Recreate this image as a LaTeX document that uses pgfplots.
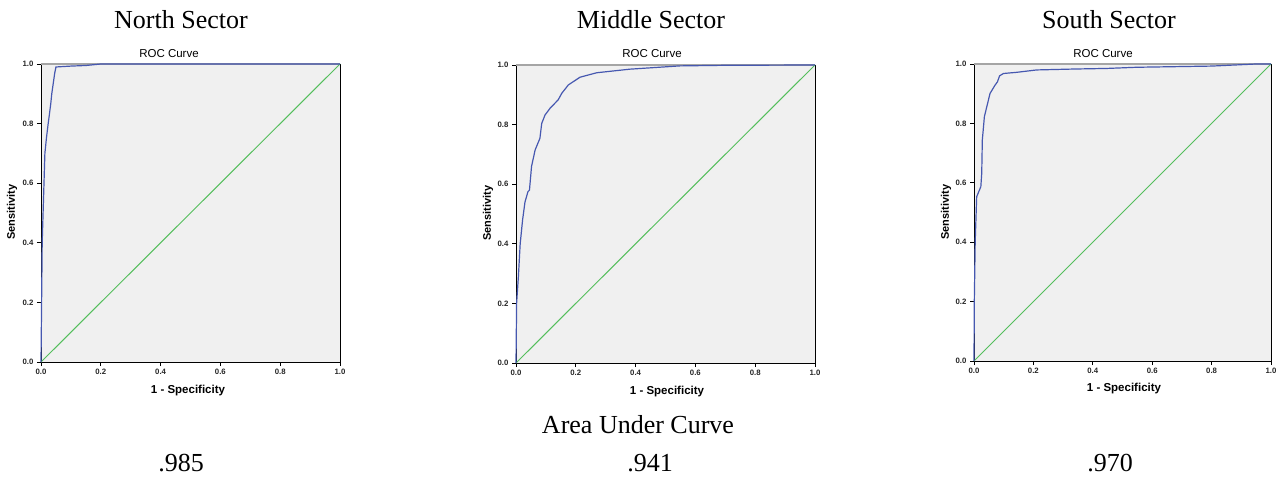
\documentclass[border=0pt]{standalone}
\usepackage{fontspec}
\setmainfont{Liberation Sans}
\newfontfamily\timesf{Liberation Serif}
\usepackage{pgfplots}
\pgfplotsset{compat=1.18}
\definecolor{roc}{RGB}{70,88,176}
\definecolor{refl}{RGB}{84,190,92}
\definecolor{bg}{RGB}{240,240,240}
\definecolor{topg}{RGB}{165,165,165}
\pgfplotsset{rocax/.style={
  scale only axis, width=299pt, height=298pt,
  xmin=0, xmax=1, ymin=0, ymax=1,
  xtick={0,0.2,0.4,0.6,0.8,1}, ytick={0,0.2,0.4,0.6,0.8,1},
  xticklabels={0.0,0.2,0.4,0.6,0.8,1.0},
  yticklabels={0.0,0.2,0.4,0.6,0.8,1.0},
  tick pos=left, tick align=outside, major tick length=4pt,
  tick style={black, line width=0.8pt},
  tick label style={font=\fontsize{7.8}{8}\selectfont\bfseries, text=black!85},
  axis background/.style={fill=bg},
  axis line style={black, line width=0.9pt},
  clip=false,
}}
\begin{document}
\begin{tikzpicture}[x=1pt,y=1pt]
\useasboundingbox (0,0) rectangle (1280,477);
% ---------- North
\begin{axis}[rocax, at={(41pt,115pt)}, anchor=south west]
\draw[topg, line width=1.6pt] (rel axis cs:0,1) -- (rel axis cs:1,1);
\addplot[refl, line width=1pt] coordinates {(0,0) (1,1)};
\addplot[roc, line width=1.2pt] coordinates {
(0,0) (0.001,0.1) (0.002,0.2) (0.004,0.4) (0.007,0.5) (0.01,0.6)
(0.013,0.7) (0.018,0.75) (0.024,0.8) (0.028,0.83) (0.033,0.87)
(0.036,0.9) (0.041,0.935) (0.046,0.97) (0.05,0.99) (0.1,0.993)
(0.15,0.995) (0.2,1.0) (1,1)};
\end{axis}
% ---------- Middle
\begin{axis}[rocax, at={(516pt,114pt)}, anchor=south west]
\draw[topg, line width=1.6pt] (rel axis cs:0,1) -- (rel axis cs:1,1);
\addplot[refl, line width=1pt] coordinates {(0,0) (1,1)};
\addplot[roc, line width=1.2pt] coordinates {
(0,0) (0.001,0.1) (0.002,0.2) (0.008,0.29) (0.014,0.4) (0.022,0.48)
(0.03,0.54) (0.04,0.575) (0.045,0.58) (0.052,0.66) (0.064,0.715)
(0.08,0.754) (0.086,0.804) (0.097,0.832) (0.114,0.855) (0.141,0.883)
(0.153,0.905) (0.175,0.933) (0.214,0.959) (0.27,0.974) (0.381,0.986)
(0.548,0.997) (0.7,0.999) (1,1)};
\end{axis}
% ---------- South
\begin{axis}[rocax, width=297pt, height=297pt, at={(974pt,116pt)}, anchor=south west]
\draw[topg, line width=1.6pt] (rel axis cs:0,1) -- (rel axis cs:1,1);
\addplot[refl, line width=1pt] coordinates {(0,0) (1,1)};
\addplot[roc, line width=1.2pt] coordinates {
(0,0) (0.001,0.2) (0.004,0.4) (0.009,0.553) (0.023,0.587) (0.026,0.632)
(0.028,0.744) (0.035,0.823) (0.043,0.856) (0.054,0.901) (0.071,0.929)
(0.079,0.94) (0.086,0.96) (0.099,0.968) (0.144,0.972) (0.211,0.98)
(0.334,0.983) (0.446,0.985) (0.548,0.989) (0.8,0.993) (0.95,1.0) (1,1)};
\end{axis}
% ---------- texts
\tikzset{big/.style={font=\timesf\fontsize{26}{28}\selectfont, anchor=base, inner sep=0pt},
         roct/.style={font=\fontsize{11.5}{12}\selectfont, anchor=base, inner sep=0pt},
         xl/.style={font=\fontsize{11.5}{12}\selectfont\bfseries, anchor=base, inner sep=0pt},
         yl/.style={font=\fontsize{11}{12}\selectfont\bfseries, rotate=90, inner sep=0pt}}
\node[big] at (181,448) {North Sector};
\node[big] at (651,448) {Middle Sector};
\node[big] at (1109,448) {South Sector};
\node[roct] at (169,419) {ROC Curve};
\node[roct] at (652,419) {ROC Curve};
\node[roct] at (1103,419) {ROC Curve};
\node[xl] at (188,84) {1 - Specificity};
\node[xl] at (667,83) {1 - Specificity};
\node[xl] at (1124,85) {1 - Specificity};
\node[yl] at (12,265) {Sensitivity};
\node[yl] at (488,264) {Sensitivity};
\node[yl] at (946,265) {Sensitivity};
\node[big] at (638,44) {Area Under Curve};
\node[big] at (181,6) {.985};
\node[big] at (650,6) {.941};
\node[big] at (1110,6) {.970};
\end{tikzpicture}
\end{document}
